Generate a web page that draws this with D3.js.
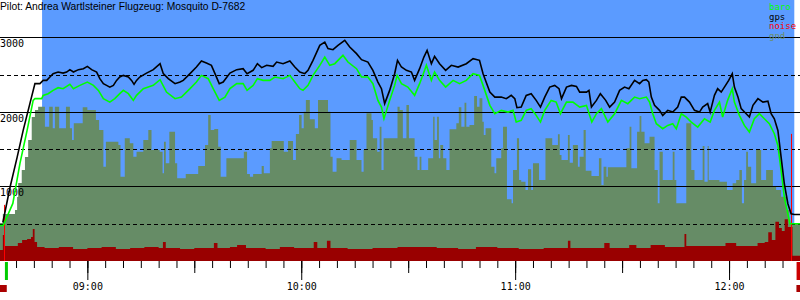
<!DOCTYPE html>
<html>
<head>
<meta charset="utf-8">
<script src="https://cdn.jsdelivr.net/npm/d3@7"></script>
<style>
  body { margin: 0; background: #fff; }
  svg { display: block; }
</style>
</head>
<body>
<svg width="800" height="300"></svg>
<script>
const title = "Pilot: Andrea Wartlsteiner Flugzeug: Mosquito D-7682"
const legendNames = ["baro", "gps", "noise", "gnd"]
const legendColors = ["#00ff00", "#000000", "#ff0000", "#6b8e6b"]
const altGrid = [500, 1000, 1500, 2000, 2500, 3000]
const altLabels = [1000, 2000, 3000]

// times are minutes after 08:00
const skyStart = 47.3, skyEnd = 258.3
const takeoff = 37.3, landing = 259.5
const engineRuns = [[35.5, 37.4], [258.9, 259.9]]

const gps = [[36.3,516],[38.3,986],[40.3,1389],[42.0,1751],[43.9,2114],[45.3,2378],[46.7,2378],[47.6,2422],[48.6,2422],[49.5,2467],[50.4,2512],[51.8,2534],[53.2,2520],[54.2,2534],[55.1,2566],[56.1,2534],[57.5,2566],[58.9,2579],[60.0,2610],[61.2,2566],[62.6,2534],[63.5,2445],[64.5,2378],[65.4,2355],[66.3,2332],[67.3,2355],[68.2,2422],[69.1,2467],[70.1,2489],[71.5,2467],[72.4,2422],[73.1,2369],[73.8,2422],[74.7,2467],[76.6,2520],[78.5,2566],[80.4,2646],
  [81.3,2512],[82.7,2445],[84.6,2378],[86.0,2400],[86.9,2422],[88.8,2512],[90.6,2601],[92.0,2681],[93.4,2654],[94.8,2624],[95.8,2512],[97.0,2378],[98.1,2400],[100.0,2520],[101.9,2566],[103.7,2579],[104.8,2512],[106.5,2557],[107.7,2646],[108.9,2593],[110.3,2624],[112.1,2610],[113.1,2668],[114.9,2646],[116.8,2681],[118.2,2601],[119.6,2534],[121.0,2512],[121.9,2557],[123.3,2691],[125.2,2892],
  [126.6,2936],[127.5,2848],[128.9,2834],[130.3,2892],[132.2,2959],[133.6,2869],[135.5,2781],[136.9,2700],[138.7,2668],[140.1,2557],[141.5,2400],[142.5,2311],[143.4,2110],[144.8,2288],[146.2,2512],[147.0,2691],[148.1,2601],[149.5,2557],[150.9,2534],[151.8,2422],[153.2,2579],[154.4,2735],[155.3,2825],[156.5,2646],[157.4,2744],[158.8,2646],[160.5,2557],[162.1,2624],[164.0,2601],[166.3,2646],[168.2,2713],[170.0,2691],
  [171.0,2512],[172.9,2265],[174.3,2198],[176.1,2198],[177.5,2177],[178.9,2221],[179.9,2177],[180.5,2056],[181.7,2064],[183.1,2221],[184.5,2244],[185.9,2154],[187.1,2064],[188.3,2198],[189.7,2332],[191.1,2355],[192.3,2311],[193.0,2177],[194.4,2332],[195.8,2355],[197.2,2342],[198.1,2265],[200.0,2265],[200.7,2288],[201.4,2064],[202.8,2154],[203.9,2244],[205.4,2154],[206.5,2064],[207.9,2131],[209.3,2288],[210.7,2332],[211.9,2311],[213.5,2422],[214.9,2378],
  [215.8,2422],[216.8,2432],[217.5,2400],[218.2,2198],[219.1,2087],[220.5,2020],[221.4,1953],[222.8,2020],[224.2,1997],[225.6,2064],[226.6,2198],[227.5,2198],[228.9,2131],[230.3,2020],[231.7,1997],[232.6,2064],[234.0,2110],[234.7,1997],[235.9,2221],[236.8,2311],[237.8,2265],[238.7,2332],[239.9,2422],[240.9,2512],[241.5,2332],[242.5,2198],[243.4,2043],[244.8,1975],[245.7,1930],[246.7,2087],[248.1,2177],[249.5,2131],[250.9,2144],[251.8,1975],[252.7,1908],[253.7,1751],[254.6,1393],[255.5,1036],[256.5,768],[257.4,633],[258.3,624],[259.9,624]]

const baro = [[35.5,476],[36.4,476],[39.1,772],[41.1,1309],[43.1,1751],[44.8,2154],[45.3,2177],[47.2,2177],[47.6,2221],[49.0,2244],[50.4,2288],[51.8,2324],[53.2,2311],[55.1,2369],[56.1,2311],[57.9,2355],[60.0,2400],[61.7,2355],[63.1,2288],[64.5,2177],[66.3,2131],[67.7,2177],[69.1,2244],[70.1,2288],[71.5,2244],[72.9,2154],[73.8,2221],[75.7,2311],[78.5,2355],[80.4,2432],
  [82.2,2265],[84.6,2177],[86.4,2198],[88.8,2311],[90.6,2400],[92.0,2489],[93.9,2445],[95.3,2311],[97.0,2154],[98.6,2198],[100.0,2311],[101.9,2378],[103.7,2378],[104.8,2288],[106.5,2355],[107.7,2445],[109.3,2422],[111.2,2422],[112.6,2467],[114.9,2445],[116.8,2489],[118.2,2400],[119.6,2311],[120.5,2288],[121.9,2355],[123.3,2489],[125.2,2624],
  [126.6,2735],[128.0,2624],[129.4,2646],[131.7,2758],[133.1,2668],[135.5,2579],[136.9,2467],[138.7,2467],[140.1,2378],[141.5,2154],[142.5,2064],[143.2,1908],[144.8,2154],[146.2,2355],[146.9,2489],[148.1,2378],[149.9,2332],[151.8,2221],[153.2,2378],[154.6,2557],[155.1,2624],[156.5,2422],[157.4,2534],[158.8,2422],[160.5,2332],[162.6,2422],[164.4,2378],[166.3,2422],[168.2,2512],[170.0,2489],
  [171.0,2355],[172.9,2087],[174.3,1975],[176.1,2020],[178.0,1997],[179.4,2020],[180.3,1863],[181.7,1886],[183.1,2020],[184.5,2043],[185.9,1953],[187.1,1863],[188.3,2020],[190.1,2154],[191.5,2131],[192.7,1975],[194.4,2131],[196.2,2131],[198.1,2064],[200.0,2087],[201.5,1863],[202.8,1975],[204.2,2043],[206.0,1863],[207.9,1975],[209.8,2154],[211.6,2110],[213.5,2198],[214.9,2177],
  [216.8,2198],[217.7,2131],[218.6,1975],[219.6,1841],[221.4,1774],[222.8,1818],[224.2,1841],[225.2,1774],[226.6,1975],[228.0,1930],[229.4,1863],[231.2,1796],[233.1,1908],[234.7,1863],[235.9,2020],[237.3,2131],[238.2,1930],[239.6,2154],[240.9,2311],[241.5,2131],[242.9,1953],[244.3,1818],[245.7,1729],[247.1,1908],[248.5,1975],[249.9,1908],[251.3,1841],[252.7,1707],[253.7,1550],[254.6,1214],[255.5,856],[256.5,633],[257.1,499],[259.9,499]]

const gnd = [[35.5,510],[36.3,630],[39.7,684],[40.3,858],[40.6,1046],[41.6,1220],[42.5,1395],[43.4,1623],[44.4,1931],[45.3,2025],[46.2,2069],[48.1,1801],[49.3,2069],[50.3,1780],[50.9,2069],[52.1,1780],[54.0,2069],[55.1,1780],[55.7,1623],[56.2,1847],[58.7,2061],[60.0,2025],[62.4,1891],[63.3,1757],[64.5,1265],[65.2,1600],[68.7,1556],[69.3,1130],[70.5,1645],[71.9,1578],[72.9,1399],[73.8,1466],[75.7,1623],[77.1,1757],[78.0,1489],
  [80.3,1466],[81.1,1176],[81.5,1600],[82.0,1310],[83.0,1734],[84.6,1310],[85.2,1109],[87.6,1167],[91.1,1274],[93.0,1556],[93.9,1958],[94.6,1757],[95.6,1770],[96.7,1533],[97.4,1130],[99.0,1377],[103.9,1466],[104.8,1167],[105.6,1130],[106.5,1167],[108.9,1274],[109.5,1176],[111.2,1511],[111.7,1609],[115.1,1466],[116.3,1609],[117.7,1354],[118.5,1703],[119.4,1958],[120.1,1779],[120.7,2002],[121.3,2159],[122.4,1900],[123.8,1779],[124.7,2159],
  [127.5,2002],[128.2,1399],[128.8,1198],[129.9,1377],[131.3,1354],[133.6,1623],[135.5,1354],[136.9,1198],[137.5,1489],[138.3,1981],[139.7,1891],[140.1,1645],[141.3,1466],[142.0,1801],[142.5,1220],[143.1,1645],[147.0,2069],[147.6,2025],[148.5,1645],[149.5,2092],[150.2,1645],[151.8,1399],[152.6,1220],[153.2,1399],[153.7,1220],[155.6,1377],[157.0,1935],[157.4,1623],[158.1,1935],[158.6,1377],[159.0,1556],[159.8,1377],[160.7,1220],[161.6,1766],[163.5,1847],[164.2,2061],[164.9,1801],[165.8,2123],[166.3,1801],[167.2,1824],[168.5,2213],[169.3,2069],
  [170.0,2182],[170.8,1868],[171.2,1690],[171.7,1780],[173.3,1265],[174.2,1176],[174.7,1377],[176.1,1511],[176.6,1801],[177.7,827],[179.0,774],[179.4,1220],[180.5,1645],[181.1,1086],[181.7,1063],[182.9,952],[183.6,1230],[184.5,952],[185.0,1310],[186.7,1086],[188.5,1645],[190.4,1556],[192.0,1699],[192.5,1421],[193.0,1354],[194.8,1690],[195.3,1318],[196.2,1556],[197.6,1265],[198.1,1399],[199.2,1757],[199.8,1211],[201.4,1140],[203.5,1377],[204.2,1019],[204.8,1265],[205.6,1130],[206.0,1257],[211.2,1511],[212.1,1801],[212.6,1243],[214.2,1734],
  [214.9,1944],[215.4,1734],[216.3,1578],[217.7,1667],[219.1,1220],[220.0,774],[220.5,1466],[221.4,1086],[224.2,1466],[224.7,1086],[225.2,774],[228.0,1847],[229.4,1220],[230.3,1086],[232.6,1542],[233.1,1063],[234.0,1542],[234.3,1086],[237.3,1063],[239.4,952],[241.0,1042],[242.0,1086],[242.9,1220],[243.6,774],[244.2,1086],[244.8,1466],[245.3,1265],[246.2,1042],[247.6,1489],[249.0,1086],[250.4,1220],[252.3,996],[253.2,952],[254.6,862],[256.0,684],[256.9,506],[259.9,506]]

const noise = [[35.5,4.2],[36.3,10],[36.9,5.7],[40.5,6.9],[41.7,8.0],[43.1,8.4],[44.2,9.2],[44.7,12.3],[45.2,7.3],[45.9,5.4],[48.0,5.0],[52.0,5.4],[56.0,4.6],[60.0,5.0],[64.0,5.4],[68.0,4.6],[72.0,5.0],[76.0,5.4],[80.0,5.0],[81.2,7.3],[82.0,5.0],[86.0,4.6],[90.0,5.0],[95.5,6.9],[96.5,5.0],[100.0,5.4],[102.0,6.1],[104.5,5.0],[110.0,4.6],[114.0,5.4],[118.0,5.0],[123.5,7.3],[124.5,5.0],[127.2,7.8],[128.2,5.0],[133.0,4.6],[140.0,5.0],[147.0,5.4],[152.0,5.4],[158.0,5.0],[164.0,4.6],[169.0,5.4],[175.0,5.0],[181.0,4.6],[188.0,5.0],[194.8,7.8],[195.5,5.0],[200.0,5.0],[205.0,6.9],[206.5,5.0],[212.0,6.1],[214.0,5.0],[218.0,6.1],[222.0,5.4],[227.5,10.3],[228.0,5.7],[239.0,6.9],[242.0,5.7],[248.0,6.9],[250.0,7.3],[251.0,11.0],[252.0,8.0],[253.0,15.0],[254.0,12.6],[254.8,11.5],[255.6,16.0],[256.5,13.0],[257.8,2.0],[259.9,1.5]]

const noisePeaks = [[36.6, 21.5], [257.3, 48.7]]

const day = m => new Date(2000, 0, 1, 8, 0, 0, Math.round(m * 60000))

const svg = d3.select("svg")
const plotBottom = 261

const x = d3.scaleTime()
  .domain([day(35.5), day(259.9)])
  .range([0, 800])
const y = d3.scaleLinear().domain([0, 3500]).range([plotBottom, 0])
const yNoise = d3.scaleLinear().domain([0, 100]).range([plotBottom, 0])

// sky
svg.append("rect")
  .attr("x", x(day(skyStart)))
  .attr("y", 0)
  .attr("width", x(day(skyEnd)) - x(day(skyStart)))
  .attr("height", plotBottom)
  .attr("fill", "#5b9bff")

// ground profile
svg.append("path")
  .datum(gnd)
  .attr("fill", "#668c66")
  .attr("d", d3.area().curve(d3.curveStepAfter)
    .x(d => x(day(d[0]))).y0(plotBottom).y1(d => y(d[1])))

// grid
svg.append("g").selectAll("line")
  .data(altGrid)
  .enter().append("line")
  .attr("x1", 0).attr("x2", 800)
  .attr("y1", d => Math.round(y(d)) + 0.5)
  .attr("y2", d => Math.round(y(d)) + 0.5)
  .attr("stroke", "#000")
  .attr("stroke-dasharray", d => d % 1000 ? "4,3" : null)

svg.append("g").selectAll("text")
  .data(altLabels)
  .enter().append("text")
  .attr("x", 0)
  .attr("y", d => Math.round(y(d)) + 10)
  .style("font", "10px 'DejaVu Sans Mono'")
  .text(d => d)

// noise
svg.append("path")
  .datum(noise)
  .attr("fill", "#990000")
  .attr("d", d3.area().curve(d3.curveStepAfter)
    .x(d => x(day(d[0]))).y0(plotBottom).y1(d => yNoise(d[1])))

svg.append("g").selectAll("line")
  .data(noisePeaks)
  .enter().append("line")
  .attr("x1", d => Math.round(x(day(d[0]))) + 0.5)
  .attr("x2", d => Math.round(x(day(d[0]))) + 0.5)
  .attr("y1", plotBottom)
  .attr("y2", d => yNoise(d[1]))
  .attr("stroke", "#ff0000")

// altitude lines
let line = d3.line().x(d => x(day(d[0]))).y(d => y(d[1]))
svg.append("path").datum(baro)
  .attr("fill", "none").attr("stroke", "#00ff00").attr("stroke-width", 1.6)
  .attr("d", line)
svg.append("path").datum(gps)
  .attr("fill", "none").attr("stroke", "#000").attr("stroke-width", 1.6)
  .attr("d", line)

// time axis
let axisLayer = svg.append("g").attr("transform", "translate(0," + plotBottom + ")")
axisLayer.append("g")
  .call(d3.axisBottom(x).ticks(d3.timeMinute.every(5)).tickSize(7).tickFormat(""))
axisLayer.append("g")
  .call(d3.axisBottom(x).ticks(d3.timeMinute.every(30)).tickSize(12).tickFormat(""))
axisLayer.append("g")
  .call(d3.axisBottom(x).ticks(d3.timeHour.every(1)).tickSize(19).tickPadding(3)
    .tickFormat(d3.timeFormat("%H:%M")))
axisLayer.selectAll(".domain").remove()
axisLayer.selectAll("text").style("font", "10px 'DejaVu Sans Mono'").attr("fill", "#000")

// takeoff / landing markers
svg.append("rect")
  .attr("x", x(day(takeoff)) - 1.5).attr("y", plotBottom + 1)
  .attr("width", 3).attr("height", 18).attr("fill", "#00cc00")
svg.append("rect")
  .attr("x", x(day(landing)) - 2).attr("y", plotBottom + 1)
  .attr("width", 4).attr("height", 18).attr("fill", "#cc0000")
svg.append("g").selectAll("rect")
  .data(engineRuns)
  .enter().append("rect")
  .attr("x", d => x(day(d[0])))
  .attr("y", 285)
  .attr("width", d => x(day(d[1])) - x(day(d[0])))
  .attr("height", 7)
  .attr("fill", "#aa0000")

// legend
svg.append("g").selectAll("text")
  .data(legendNames)
  .enter().append("text")
  .attr("x", 769)
  .attr("y", (d, i) => 10 + i * 9.6)
  .attr("fill", (d, i) => legendColors[i])
  .style("font", "9px 'DejaVu Sans Mono'")
  .text(d => d)

svg.append("text")
  .attr("x", 0).attr("y", 10)
  .style("font", "10.3px 'Liberation Sans'")
  .text(title)
</script>
</body>
</html>
